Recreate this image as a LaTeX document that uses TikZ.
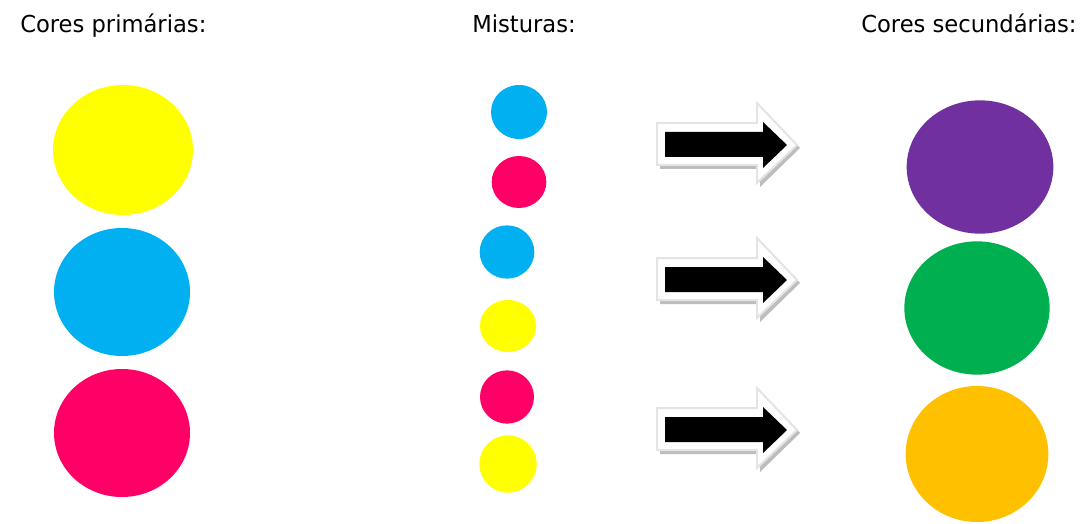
\documentclass[tikz,border=0pt]{standalone}
\usepackage{fontspec}
\setmainfont[FakeStretch=0.97]{DejaVu Sans}
\usetikzlibrary{shapes.geometric}
\definecolor{cyel}{HTML}{FFFF00}
\definecolor{cblu}{HTML}{00B0F0}
\definecolor{cmag}{HTML}{FF0066}
\definecolor{cpur}{HTML}{7030A0}
\definecolor{cgrn}{HTML}{00B050}
\definecolor{corg}{HTML}{FFC000}
\definecolor{arrbord}{HTML}{E4E4E4}
\definecolor{arrshad}{HTML}{BDBDBD}
\tikzset{
  blob/.style={ellipse, inner sep=0pt, draw=none},
  title/.style={anchor=base west, inner sep=0pt, font=\fontsize{17.5}{20}\selectfont},
}
\newcommand\mixarrow[1]{%
  \begin{scope}[shift={(#1)}]
    \fill[arrshad] (-67,24) -- (33,24) -- (33,42) -- (73,3) -- (33,-38) -- (33,-20) -- (-67,-20) -- cycle;
    \filldraw[fill=white, draw=arrbord, line width=1.5pt] (-70,-22) -- (30,-22) -- (30,-42) -- (70,0) -- (30,38) -- (30,20) -- (-70,20) -- cycle;
    \fill[black] (-62,-13) -- (36,-13) -- (36,-23) -- (60,0) -- (36,23) -- (36,12) -- (-62,12) -- cycle;
  \end{scope}}
\begin{document}
\begin{tikzpicture}[x=0.75pt,y=-0.75pt]
\useasboundingbox (0,0) rectangle (1085,524);
\node[title] (t1) at (20,33) {Cores primárias:};
\node[title] (t2) at (472,33) {Misturas:};
\node[title] (t3) at (861,33) {Cores secundárias:};
% primary
\node[blob, fill=cyel, minimum width=105pt, minimum height=97.5pt] (p1) at (123,150) {};
\node[blob, fill=cblu, minimum width=102pt, minimum height=96pt] (p2) at (122,292) {};
\node[blob, fill=cmag, minimum width=102pt, minimum height=96pt] (p3) at (122,433) {};
% mixtures
\node[blob, fill=cblu, minimum width=42pt, minimum height=40.5pt] (m1) at (519,112) {};
\node[blob, fill=cmag, minimum width=41pt, minimum height=39pt] (m2) at (519,182) {};
\node[blob, fill=cblu, minimum width=41pt, minimum height=40pt] (m3) at (507,252) {};
\node[blob, fill=cyel, minimum width=42pt, minimum height=39pt] (m4) at (508,326) {};
\node[blob, fill=cmag, minimum width=40.5pt, minimum height=40pt] (m5) at (507,397) {};
\node[blob, fill=cyel, minimum width=43pt, minimum height=43pt] (m6) at (508,464) {};
% secondary
\node[blob, fill=cpur, minimum width=110pt, minimum height=100pt] (s1) at (980,167) {};
\node[blob, fill=cgrn, minimum width=109pt, minimum height=100pt] (s2) at (977,308) {};
\node[blob, fill=corg, minimum width=107pt, minimum height=102pt] (s3) at (977,454) {};
% arrows
\coordinate (a1) at (727,145);
\coordinate (a2) at (727,280);
\coordinate (a3) at (727,430);
\mixarrow{a1}
\mixarrow{a2}
\mixarrow{a3}
\end{tikzpicture}
\end{document}
